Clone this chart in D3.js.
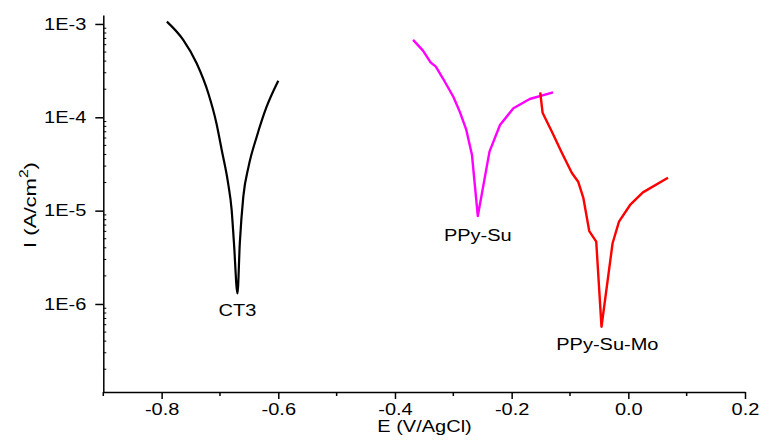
<!DOCTYPE html>
<html><head><meta charset="utf-8">
<script src="https://cdn.jsdelivr.net/npm/d3@7"></script>
<style>
body{margin:0;background:#fff;}
svg{display:block;}
text{font-family:"Liberation Sans",Arial,sans-serif;fill:#000;}
</style></head><body>
<svg id="c" width="762" height="441"></svg>
<script>
// Data (E in V vs AgCl, I in A/cm^2)
const ct3E = [-0.791,-0.763,-0.740,-0.720,-0.706,-0.697,-0.686,-0.680,-0.676,-0.670,-0.666,-0.660,-0.651,-0.637,-0.620,-0.600];
const ct3I = [1.06e-3,6.75e-4,3.79e-4,1.81e-4,8.6e-5,4.47e-5,1.96e-5,1.02e-5,4.47e-6,1.30e-6,4.47e-6,1.41e-5,2.96e-5,6.19e-5,1.30e-4,2.47e-4];
const suE = [-0.369,-0.352,-0.339,-0.330,-0.318,-0.300,-0.289,-0.278,-0.268,-0.258,-0.238,-0.220,-0.197,-0.169,-0.129];
const suI = [6.75e-4,5.18e-4,3.88e-4,3.49e-4,2.62e-4,1.66e-4,1.15e-4,7.43e-5,3.94e-5,8.75e-6,4.29e-5,8.28e-5,1.25e-4,1.57e-4,1.85e-4];
const moE = [-0.151,-0.147,-0.131,-0.114,-0.097,-0.086,-0.077,-0.067,-0.055,-0.046,-0.027,-0.016,0.003,0.025,0.068];
const moI = [1.85e-4,1.12e-4,7.01e-5,4.18e-5,2.55e-5,2.04e-5,1.36e-5,6.04e-6,4.65e-6,5.70e-7,4.47e-6,7.62e-6,1.15e-5,1.57e-5,2.25e-5];
const xTicks = [-0.8,-0.6,-0.4,-0.2,0.0,0.2];
const xMinor = [-0.9,-0.7,-0.5,-0.3,-0.1,0.1];
const yTicks = [1e-6,1e-5,1e-4,1e-3];
const yTickLabels = ["1E-6","1E-5","1E-4","1E-3"];
const seriesNames = ["CT3","PPy-Su","PPy-Su-Mo"];
const seriesColors = ["#000000","#ff00ff","#ff0000"];

const svg = d3.select("#c");
const x = d3.scaleLinear().domain([-0.9,0.2]).range([103.3,745]);
const y = d3.scaleLog().domain([Math.pow(10,-6.943),Math.pow(10,-2.904)]).range([392,15]);
const SX = 1.25, FS = 16;
const fmt = d3.format(".1f");

// minor y ticks
const yMinor = [];
[-7,-6,-5,-4,-3].forEach(p=>{for(let k=2;k<=9;k++){const v=k*Math.pow(10,p); if(v>y.domain()[0]&&v<y.domain()[1]) yMinor.push(v);}});
svg.append("g").selectAll("line").data(yMinor).join("line")
  .attr("x1",x.range()[0]).attr("x2",x.range()[0]+3)
  .attr("y1",d=>y(d)).attr("y2",d=>y(d)).attr("stroke","#000").attr("stroke-width",1);

// x axis
const gx = svg.append("g").attr("transform",`translate(0,${y.range()[0]})`)
  .call(d3.axisBottom(x).tickValues(xTicks).tickFormat(d=>fmt(d).replace("\u2212","-")).tickSize(7).tickSizeOuter(0));
gx.select(".domain").attr("stroke-width",1.5);
gx.selectAll(".tick line").attr("stroke-width",1.5);
gx.selectAll(".tick text").attr("font-size",FS).attr("font-family","Liberation Sans, Arial, sans-serif")
  .attr("y",12).attr("transform",`scale(${SX},1)`);
svg.append("g").selectAll("line").data(xMinor).join("line")
  .attr("x1",d=>x(d)).attr("x2",d=>x(d)).attr("y1",y.range()[0]).attr("y2",y.range()[0]+4)
  .attr("stroke","#000").attr("stroke-width",1.5);

// y axis
const gy = svg.append("g").attr("transform",`translate(${x.range()[0]},0)`)
  .call(d3.axisLeft(y).tickValues(yTicks).tickFormat((d,i)=>yTickLabels[i]).tickSize(8).tickSizeOuter(0));
gy.select(".domain").attr("stroke-width",1.5);
gy.selectAll(".tick line").attr("stroke-width",1.5);
gy.selectAll(".tick text").attr("font-size",FS).attr("font-family","Liberation Sans, Arial, sans-serif")
  .attr("x",-17/SX).attr("transform",`scale(${SX},1)`);

// axis titles
svg.append("text").attr("transform",`translate(424.5,432) scale(${SX},1)`).attr("text-anchor","middle")
  .attr("font-size",FS).text("E (V/AgCl)");
const yl = svg.append("text").attr("transform",`translate(36,205) rotate(-90) scale(1.3,1)`).attr("text-anchor","middle").attr("font-size",17);
yl.append("tspan").text("I (A/cm");
yl.append("tspan").attr("dy",-8).attr("font-size",12).text("2");
yl.append("tspan").attr("dy",8).text(")");

// lines
const series = [[ct3E,ct3I],[suE,suI],[moE,moI]];
series.forEach((s,i)=>{
  const pts = s[0].map((e,j)=>[e,s[1][j]]);
  const line = d3.line().x(d=>x(d[0])).y(d=>y(d[1])).curve(i===0?d3.curveMonotoneX:d3.curveLinear);
  svg.append("path").datum(pts).attr("d",line).attr("fill","none")
    .attr("stroke",seriesColors[i]).attr("stroke-width",i===0?2.2:2.4).attr("stroke-linejoin","round");
});

// labels
const labelPos = [[-0.670,316],[-0.258,241],[-0.036,350]];
seriesNames.forEach((n,i)=>{
  svg.append("text").attr("transform",`translate(${x(labelPos[i][0])},${labelPos[i][1]}) scale(${SX},1)`)
    .attr("text-anchor","middle").attr("font-size",FS).text(n);
});
</script>
</body></html>
